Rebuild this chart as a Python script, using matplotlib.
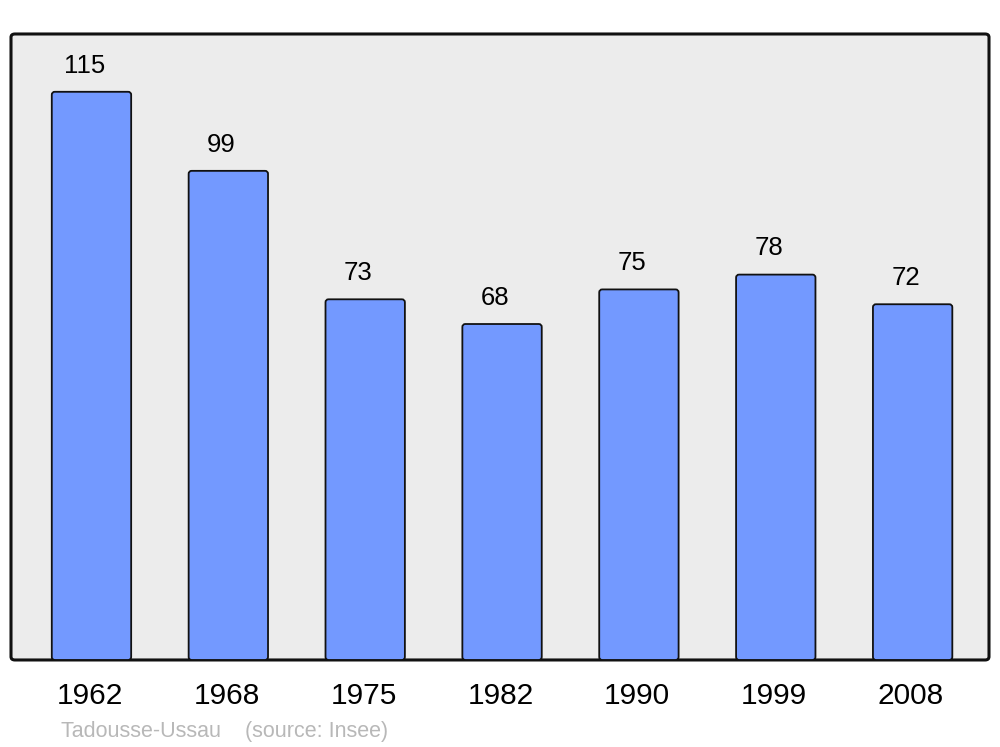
import numpy as np
import matplotlib.pyplot as plt
from matplotlib.patches import FancyBboxPatch

plt.rcParams['font.family'] = ['Liberation Sans', 'DejaVu Sans']

annees = ['1962', '1968', '1975', '1982', '1990', '1999', '2008']
population = [115, 99, 73, 68, 75, 78, 72]

fig = plt.figure(figsize=(10, 7.47), dpi=100)
ax = fig.add_axes([0.011, 0.1165, 0.978, 0.838])
ax.set_facecolor('none')
for s in ax.spines.values():
    s.set_visible(False)

# cadre arrondi
cadre = FancyBboxPatch((0, 0), 1, 1, boxstyle='round,pad=0,rounding_size=0.004',
                       transform=ax.transAxes, facecolor='#ececec', edgecolor='#111111',
                       linewidth=2.2, zorder=0, clip_on=False, mutation_aspect=1.3)
ax.add_patch(cadre)

x = np.arange(len(annees))
barres = ax.bar(x, population, width=0.58, color='#7399ff', edgecolor='#111111', linewidth=1.3, zorder=2)
# coins arrondis
for b in barres:
    b.set_visible(False)
    bx, by = b.get_xy()
    p = FancyBboxPatch((bx, by), b.get_width(), b.get_height(),
                       boxstyle='round,pad=0,rounding_size=0.022', mutation_aspect=27.7,
                       facecolor='#7399ff', edgecolor='#111111', linewidth=1.3, zorder=2)
    ax.add_patch(p)

for xi, v in zip(x, population):
    ax.text(xi - 0.05, v + 5.3, str(v), ha='center', va='center', fontsize=18.5, color='black')

ax.set_xlim(-0.588, 6.558)
ax.set_ylim(0, 126.7)
ax.set_yticks([])
ax.set_xticks(x - 0.012)
ax.set_xticklabels(annees, fontsize=21.5)
ax.tick_params(axis='x', length=0, pad=16)

fig.text(0.061, 0.0134, 'Tadousse-Ussau    (source: Insee)', fontsize=15.5, color='#b8b8b8',
         ha='left', va='baseline')

fig.savefig('out.png', dpi=100)
